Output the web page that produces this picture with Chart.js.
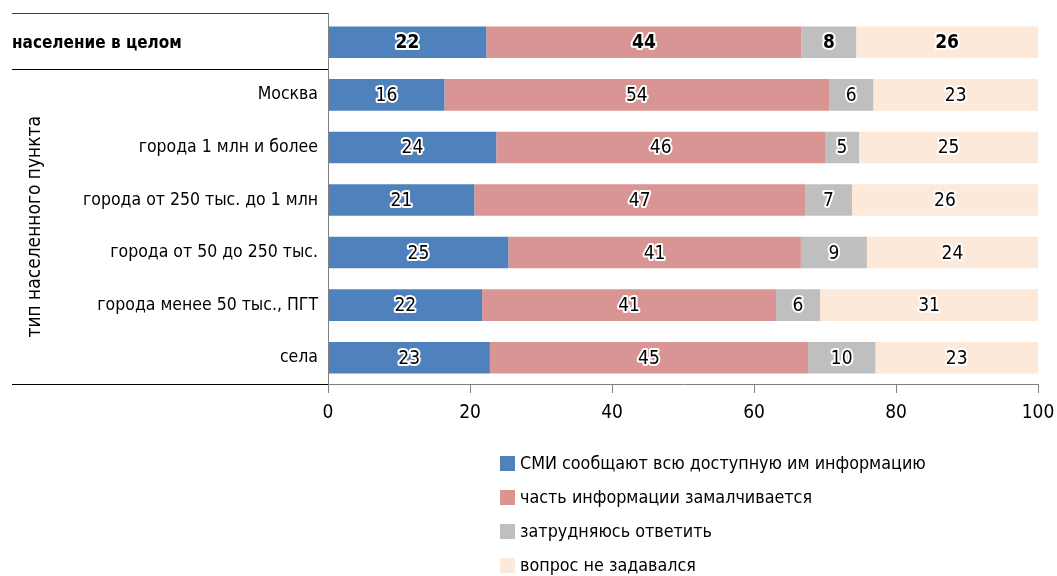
<!DOCTYPE html>
<html>
<head>
<meta charset="utf-8">
<script src="https://cdn.jsdelivr.net/npm/chart.js@4/dist/chart.umd.min.js"></script>
<style>
  html, body { margin: 0; padding: 0; background: #fff; }
  #wrap { width: 1057px; height: 576px; }
</style>
</head>
<body>
<div id="wrap"><canvas id="myChart" width="1057" height="576"></canvas></div>
<script>
"use strict";

const FONT = "'DejaVu Sans Condensed', 'Liberation Sans Narrow', sans-serif";

// Данные
const categories = [
  "население в целом",
  "Москва",
  "города 1 млн и более",
  "города от 250 тыс. до 1 млн",
  "города от 50 до 250 тыс.",
  "города менее 50 тыс., ПГТ",
  "села",
];
const seriesNames = [
  "СМИ сообщают всю доступную им информацию",
  "часть информации замалчивается",
  "затрудняюсь ответить",
  "вопрос не задавался",
];
const fullInfo = [22.3, 16.4, 23.7, 20.6, 25.4, 21.7, 22.8];
const partHidden = [44.4, 54.2, 46.3, 46.6, 41.2, 41.4, 44.8];
const hardToSay = [7.7, 6.2, 4.8, 6.6, 9.3, 6.2, 9.5];
const notAsked = [25.6, 23.2, 25.2, 26.2, 24.1, 30.7, 22.9];
const xTicks = [0, 20, 40, 60, 80, 100];
const axisTitle = "тип населенного пункта";

const colors = ["#4f81bd", "#d99594", "#bfbfbf", "#fde9d9"];
const values = [fullInfo, partHidden, hardToSay, notAsked];

const data = {
  labels: categories,
  datasets: values.map((v, i) => ({
    label: seriesNames[i],
    data: v,
    backgroundColor: colors[i],
    borderWidth: 0,
    barPercentage: 0.6,
    categoryPercentage: 1,
  })),
};

// Подписи значений внутри столбцов
const barLabels = {
  id: "barLabels",
  afterDatasetsDraw(chart) {
    const ctx = chart.ctx;
    ctx.save();
    ctx.textAlign = "center";
    ctx.textBaseline = "middle";
    ctx.lineJoin = "round";
    chart.data.datasets.forEach((ds, di) => {
      chart.getDatasetMeta(di).data.forEach((bar, i) => {
        const txt = String(Math.round(ds.data[i]));
        const x = (bar.x + bar.base) / 2;
        ctx.font = (i === 0 ? "bold " : "") + "19px " + FONT;
        ctx.strokeStyle = "#fff";
        ctx.lineWidth = 4;
        ctx.strokeText(txt, x, bar.y + 1);
        ctx.fillStyle = "#000";
        ctx.fillText(txt, x, bar.y + 1);
      });
    });
    ctx.restore();
  },
};

// Таблица слева, заголовок оси и легенда
const decor = {
  id: "decor",
  afterDraw(chart) {
    const ctx = chart.ctx;
    const y = chart.scales.y;
    const area = chart.chartArea;
    const sep = Math.round((y.getPixelForValue(0) + y.getPixelForValue(1)) / 2) + 0.5;
    const bottom = Math.round(area.bottom) + 0.5;
    ctx.save();
    ctx.lineWidth = 1;
    ctx.strokeStyle = "#404040";
    ctx.beginPath();
    ctx.moveTo(12, 13.5); ctx.lineTo(area.left, 13.5);
    ctx.stroke();
    ctx.strokeStyle = "#000";
    ctx.beginPath();
    ctx.moveTo(12, sep); ctx.lineTo(area.left, sep);
    ctx.moveTo(12, bottom); ctx.lineTo(area.left, bottom);
    ctx.stroke();
    ctx.strokeStyle = "#808080";
    ctx.beginPath();
    ctx.moveTo(Math.round(area.left) + 0.5, 13); ctx.lineTo(Math.round(area.left) + 0.5, area.bottom + 9);
    ctx.stroke();

    ctx.fillStyle = "#000";
    ctx.textBaseline = "middle";
    ctx.textAlign = "left";
    ctx.font = "bold 17px " + FONT;
    ctx.fillText(categories[0], 12, y.getPixelForValue(0) + 1);

    ctx.save();
    ctx.translate(35, (sep + area.bottom) / 2);
    ctx.rotate(-Math.PI / 2);
    ctx.textAlign = "center";
    ctx.font = "19px " + FONT;
    ctx.fillText(axisTitle, 0, 0);
    ctx.restore();

    ctx.font = "17.8px " + FONT;
    ctx.textAlign = "left";
    chart.data.datasets.forEach((ds, i) => {
      const cy = 464 + i * 34;
      ctx.fillStyle = ds.backgroundColor;
      ctx.fillRect(500, cy - 8, 15, 15);
      ctx.fillStyle = "#000";
      ctx.fillText(ds.label, 520, cy);
    });
    ctx.restore();
  },
};

const config = {
  type: "bar",
  data,
  options: {
    indexAxis: "y",
    responsive: false,
    animation: false,
    layout: { padding: { top: 16, right: 19, bottom: 152, left: 0 } },
    plugins: {
      legend: { display: false },
      tooltip: { enabled: false },
    },
    scales: {
      x: {
        stacked: true,
        min: 0,
        max: 100,
        afterBuildTicks(scale) {
          scale.ticks = xTicks.map((v) => ({ value: v }));
        },
        afterFit(scale) {
          scale.height = 40;
          scale.paddingLeft = 0;
          scale.paddingRight = 0;
        },
        grid: { drawOnChartArea: false, drawTicks: true, tickLength: 9, color: "#808080" },
        border: { color: "#808080", width: 1 },
        ticks: { color: "#000", font: { family: FONT, size: 19 }, padding: 9, maxRotation: 0 },
      },
      y: {
        stacked: true,
        afterFit(scale) {
          scale.width = 328;
          scale.paddingTop = 0;
          scale.paddingBottom = 0;
        },
        grid: { display: false, drawTicks: false },
        border: { display: false },
        ticks: {
          color: "#000",
          padding: 10,
          font: { family: FONT, size: 17.5 },
          callback(v, i) { return i === 0 ? "" : categories[i]; },
        },
      },
    },
  },
  plugins: [barLabels, decor],
};

const myChart = new Chart(document.querySelector("#myChart"), config);
</script>
</body>
</html>
